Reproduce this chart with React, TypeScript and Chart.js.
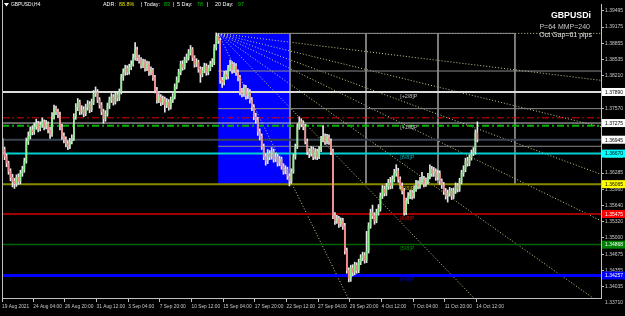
import React, { useEffect, useRef } from 'react';
import { Chart, registerables } from 'chart.js';

Chart.register(...registerables);

const FONT = '"Liberation Sans", Arial, sans-serif';

// ---- axis labels ----
const xTickLabels = ['19 Aug 2021', '24 Aug 04:00', '26 Aug 20:00', '31 Aug 12:00', '3 Sep 04:00', '7 Sep 20:00', '10 Sep 12:00', '15 Sep 04:00', '17 Sep 20:00', '22 Sep 12:00', '27 Sep 04:00', '29 Sep 20:00', '4 Oct 12:00', '7 Oct 04:00', '11 Oct 20:00', '14 Oct 12:00'];
const xTickBars = [0, 16, 32, 48, 64, 80, 96, 112, 128, 144, 160, 176, 192, 208, 224, 240];
const yTickValues = [1.39495, 1.39175, 1.38855, 1.38535, 1.3821, 1.3789, 1.3757, 1.3725, 1.3693, 1.36605, 1.36285, 1.3596, 1.3564, 1.3532, 1.35, 1.34675, 1.34355, 1.34035];
const yBottomTick = 1.3371;

// ---- H4 candles GBPUSDi ----
const firstOpen = 1.3691;
const closes = [
  1.3675, 1.3661, 1.3648, 1.3632, 1.3620, 1.3612, 1.3607, 1.3620, 1.3612, 1.3628,
  1.3636, 1.3652, 1.3691, 1.3701, 1.3714, 1.3710, 1.3720, 1.3726, 1.3716, 1.3724,
  1.3730, 1.3720, 1.3726, 1.3714, 1.3705, 1.3740, 1.3756, 1.3750, 1.3744, 1.3720,
  1.3701, 1.3695, 1.3687, 1.3681, 1.3691, 1.3697, 1.3740, 1.3759, 1.3769, 1.3750,
  1.3754, 1.3746, 1.3759, 1.3765, 1.3754, 1.3769, 1.3785, 1.3789, 1.3773, 1.3763,
  1.3750, 1.3736, 1.3746, 1.3761, 1.3773, 1.3779, 1.3769, 1.3783, 1.3777, 1.3789,
  1.3818, 1.3828, 1.3836, 1.3828, 1.3838, 1.3844, 1.3857, 1.3873, 1.3857, 1.3852,
  1.3842, 1.3848, 1.3836, 1.3844, 1.3828, 1.3832, 1.3818, 1.3793, 1.3773, 1.3779,
  1.3769, 1.3775, 1.3763, 1.3769, 1.3759, 1.3773, 1.3779, 1.3799, 1.3812, 1.3828,
  1.3844, 1.3838, 1.3852, 1.3857, 1.3867, 1.3873, 1.3857, 1.3844, 1.3848, 1.3834,
  1.3824, 1.3832, 1.3840, 1.3828, 1.3836, 1.3844, 1.3848, 1.3877, 1.3899, 1.3891,
  1.3812, 1.3808, 1.3824, 1.3820, 1.3836, 1.3844, 1.3832, 1.3840, 1.3828, 1.3818,
  1.3789, 1.3785, 1.3797, 1.3781, 1.3789, 1.3773, 1.3759, 1.3740, 1.3734, 1.3710,
  1.3701, 1.3681, 1.3661, 1.3652, 1.3667, 1.3661, 1.3671, 1.3656, 1.3661, 1.3648,
  1.3656, 1.3642, 1.3632, 1.3636, 1.3622, 1.3612, 1.3632, 1.3661, 1.3681, 1.3720,
  1.3730, 1.3726, 1.3720, 1.3691, 1.3671, 1.3667, 1.3675, 1.3661, 1.3671, 1.3661,
  1.3675, 1.3695, 1.3701, 1.3691, 1.3699, 1.3691, 1.3671, 1.3544, 1.3534, 1.3538,
  1.3528, 1.3534, 1.3524, 1.3475, 1.3436, 1.3420, 1.3440, 1.3432, 1.3446, 1.3436,
  1.3452, 1.3460, 1.3465, 1.3456, 1.3475, 1.3524, 1.3550, 1.3544, 1.3534, 1.3550,
  1.3558, 1.3583, 1.3597, 1.3589, 1.3601, 1.3609, 1.3603, 1.3616, 1.3628, 1.3632,
  1.3616, 1.3603, 1.3593, 1.3550, 1.3573, 1.3583, 1.3589, 1.3583, 1.3597, 1.3607,
  1.3603, 1.3612, 1.3616, 1.3607, 1.3612, 1.3622, 1.3636, 1.3628, 1.3632, 1.3620,
  1.3628, 1.3612, 1.3605, 1.3593, 1.3583, 1.3589, 1.3593, 1.3583, 1.3593, 1.3603,
  1.3597, 1.3612, 1.3628, 1.3636, 1.3652, 1.3648, 1.3659, 1.3667, 1.3671, 1.3708,
  1.3695,
];
const highs = [
  1.3697, 1.3680, 1.3666, 1.3652, 1.3637, 1.3626, 1.3618, 1.3625, 1.3627, 1.3634,
  1.3642, 1.3658, 1.3698, 1.3710, 1.3720, 1.3722, 1.3728, 1.3735, 1.3731, 1.3730,
  1.3738, 1.3734, 1.3733, 1.3730, 1.3719, 1.3748, 1.3763, 1.3761, 1.3755, 1.3749,
  1.3725, 1.3708, 1.3700, 1.3693, 1.3697, 1.3704, 1.3746, 1.3766, 1.3776, 1.3773,
  1.3762, 1.3760, 1.3765, 1.3772, 1.3770, 1.3775, 1.3792, 1.3799, 1.3794, 1.3778,
  1.3768, 1.3755, 1.3752, 1.3767, 1.3779, 1.3786, 1.3784, 1.3790, 1.3788, 1.3795,
  1.3824, 1.3835, 1.3842, 1.3841, 1.3844, 1.3851, 1.3864, 1.3887, 1.3878, 1.3862,
  1.3857, 1.3854, 1.3853, 1.3850, 1.3849, 1.3839, 1.3836, 1.3822, 1.3798, 1.3786,
  1.3784, 1.3781, 1.3779, 1.3776, 1.3774, 1.3779, 1.3786, 1.3805, 1.3819, 1.3834,
  1.3850, 1.3851, 1.3858, 1.3864, 1.3873, 1.3881, 1.3877, 1.3861, 1.3855, 1.3852,
  1.3839, 1.3838, 1.3846, 1.3845, 1.3842, 1.3850, 1.3855, 1.3883, 1.3906, 1.3904,
  1.3896, 1.3818, 1.3830, 1.3831, 1.3842, 1.3852, 1.3849, 1.3847, 1.3845, 1.3833,
  1.3822, 1.3796, 1.3803, 1.3802, 1.3796, 1.3794, 1.3778, 1.3764, 1.3747, 1.3739,
  1.3716, 1.3706, 1.3686, 1.3667, 1.3675, 1.3673, 1.3679, 1.3676, 1.3668, 1.3666,
  1.3662, 1.3660, 1.3647, 1.3643, 1.3640, 1.3627, 1.3637, 1.3666, 1.3686, 1.3726,
  1.3740, 1.3736, 1.3732, 1.3725, 1.3696, 1.3677, 1.3681, 1.3680, 1.3677, 1.3676,
  1.3681, 1.3701, 1.3722, 1.3706, 1.3705, 1.3704, 1.3696, 1.3676, 1.3550, 1.3545,
  1.3543, 1.3540, 1.3539, 1.3529, 1.3480, 1.3441, 1.3446, 1.3447, 1.3452, 1.3451,
  1.3458, 1.3467, 1.3472, 1.3471, 1.3513, 1.3530, 1.3557, 1.3565, 1.3550, 1.3557,
  1.3566, 1.3589, 1.3604, 1.3603, 1.3608, 1.3616, 1.3620, 1.3623, 1.3636, 1.3645,
  1.3638, 1.3621, 1.3609, 1.3598, 1.3579, 1.3590, 1.3595, 1.3595, 1.3603, 1.3614,
  1.3613, 1.3620, 1.3630, 1.3622, 1.3619, 1.3628, 1.3645, 1.3642, 1.3640, 1.3637,
  1.3634, 1.3633, 1.3617, 1.3610, 1.3598, 1.3595, 1.3600, 1.3598, 1.3599, 1.3609,
  1.3608, 1.3618, 1.3634, 1.3643, 1.3658, 1.3660, 1.3665, 1.3674, 1.3679, 1.3714,
  1.3730,
];
const lows = [
  1.3668, 1.3655, 1.3641, 1.3626, 1.3613, 1.3601, 1.3598, 1.3602, 1.3606, 1.3607,
  1.3622, 1.3630, 1.3648, 1.3685, 1.3696, 1.3704, 1.3705, 1.3715, 1.3710, 1.3712,
  1.3719, 1.3714, 1.3716, 1.3708, 1.3697, 1.3701, 1.3735, 1.3744, 1.3738, 1.3714,
  1.3695, 1.3688, 1.3680, 1.3675, 1.3677, 1.3686, 1.3693, 1.3735, 1.3752, 1.3744,
  1.3745, 1.3740, 1.3742, 1.3753, 1.3748, 1.3750, 1.3764, 1.3780, 1.3768, 1.3757,
  1.3744, 1.3727, 1.3731, 1.3741, 1.3756, 1.3768, 1.3763, 1.3765, 1.3771, 1.3772,
  1.3785, 1.3812, 1.3822, 1.3823, 1.3824, 1.3833, 1.3840, 1.3852, 1.3851, 1.3846,
  1.3836, 1.3837, 1.3830, 1.3831, 1.3822, 1.3823, 1.3812, 1.3787, 1.3767, 1.3768,
  1.3762, 1.3764, 1.3749, 1.3758, 1.3753, 1.3755, 1.3768, 1.3775, 1.3795, 1.3808,
  1.3823, 1.3832, 1.3834, 1.3847, 1.3852, 1.3862, 1.3851, 1.3838, 1.3839, 1.3828,
  1.3808, 1.3819, 1.3827, 1.3822, 1.3823, 1.3831, 1.3839, 1.3843, 1.3872, 1.3885,
  1.3806, 1.3798, 1.3803, 1.3814, 1.3815, 1.3831, 1.3826, 1.3827, 1.3822, 1.3811,
  1.3783, 1.3779, 1.3780, 1.3775, 1.3776, 1.3767, 1.3752, 1.3734, 1.3727, 1.3703,
  1.3694, 1.3675, 1.3655, 1.3644, 1.3647, 1.3655, 1.3656, 1.3650, 1.3651, 1.3642,
  1.3643, 1.3636, 1.3626, 1.3627, 1.3616, 1.3603, 1.3608, 1.3628, 1.3656, 1.3677,
  1.3715, 1.3720, 1.3714, 1.3686, 1.3665, 1.3659, 1.3662, 1.3655, 1.3656, 1.3655,
  1.3657, 1.3671, 1.3690, 1.3685, 1.3686, 1.3685, 1.3665, 1.3538, 1.3527, 1.3529,
  1.3521, 1.3523, 1.3517, 1.3468, 1.3430, 1.3413, 1.3414, 1.3425, 1.3427, 1.3430,
  1.3431, 1.3447, 1.3455, 1.3450, 1.3451, 1.3470, 1.3519, 1.3538, 1.3527, 1.3530,
  1.3545, 1.3553, 1.3578, 1.3583, 1.3584, 1.3596, 1.3597, 1.3598, 1.3611, 1.3622,
  1.3610, 1.3597, 1.3587, 1.3545, 1.3546, 1.3568, 1.3578, 1.3577, 1.3579, 1.3592,
  1.3597, 1.3598, 1.3607, 1.3601, 1.3602, 1.3607, 1.3617, 1.3622, 1.3622, 1.3614,
  1.3615, 1.3606, 1.3598, 1.3586, 1.3577, 1.3571, 1.3583, 1.3576, 1.3578, 1.3588,
  1.3591, 1.3592, 1.3607, 1.3622, 1.3631, 1.3642, 1.3643, 1.3654, 1.3663, 1.3666,
  1.3690,
];

// ---- levels / objects ----
const murreyValues = [1.3789, 1.37275, 1.3667, 1.36065, 1.35475, 1.34868, 1.34257];
const murreyNames = ['[+2/8]P', '[+1/8]P', '[8/8]P', '[7/8]P', '[6/8]P', '[5/8]P', '[4/8]P'];
const murreyLabelBar = 201;
const bidPrice = 1.36945;
const redPivot = 1.37378;
const greenPivot = 1.37222;
const boxBars = [109, 145.3];
const boxPrices = [1.3905, 1.3607];
const gridBars = [145.3, 183.7, 220.1, 259.0];
const gridPrices = [1.38305, 1.3756, 1.36815];
const fanOrigin = [109, 1.3905];
const fanEnds = [[302.5, 1.3905], [302.5, 1.3812], [302.5, 1.372], [302.5, 1.3626], [302.5, 1.3534], [302.5, 1.337], [241, 1.337], [176, 1.337]];

const X_MIN = -0.3;
const X_MAX = 302.5;
const Y_MIN = 1.33811;
const Y_MAX = 1.39632;

const BULL = '#8ef08e';
const BEAR = '#f48a8a';
const WICK = '#e6e6e6';
const AXIS = '#c0c0c0';

const seg = (x0: number, y0: number, x1: number, y1: number) => [{ x: x0, y: y0 }, { x: x1, y: y1 }];

function lineDs(data: any[], color: string, width: number, dash: number[] = [], order = 8) {
  return {
    type: 'line' as const,
    data,
    borderColor: color,
    borderWidth: width,
    borderDash: dash,
    pointRadius: 0,
    fill: false,
    tension: 0,
    order,
  };
}

export default function App() {
  const ref = useRef<HTMLCanvasElement>(null);

  useEffect(() => {
    document.body.style.margin = '0';
    document.body.style.background = '#000';

    const opens = closes.map((c, i) => (i === 0 ? firstOpen : closes[i - 1]));
    const wickData = closes.map((_, i) => ({ x: i, y: [lows[i], highs[i]] }));
    const bodyData = closes.map((c, i) => ({ x: i, y: [opens[i], c] }));
    const bodyColors = closes.map((c, i) => (c >= opens[i] ? BULL : BEAR));

    const datasets: any[] = [];
    // fan lines
    fanEnds.forEach(([bx, p]) => {
      datasets.push(lineDs(seg(fanOrigin[0], fanOrigin[1], bx, p), 'rgba(225,225,160,0.9)', 1, [1, 2], 10));
    });
    // box grid
    datasets.push(lineDs(seg(boxBars[0], boxPrices[0], gridBars[3], boxPrices[0]), '#8c8c8c', 1, [], 9));
    gridPrices.forEach((p) => datasets.push(lineDs(seg(boxBars[0], p, X_MAX, p), '#8c8c8c', 1, [], 9)));
    gridBars.forEach((b) => datasets.push(lineDs(seg(b, boxPrices[0], b, boxPrices[1]), '#8c8c8c', 1, [], 9)));
    // full-width levels
    const levelStyles: [number, string, number, number[]][] = [
      [murreyValues[0], '#dcdcdc', 2, []],
      [murreyValues[1], '#c8c8c8', 1, []],
      [bidPrice, '#3a4450', 2, []],
      [murreyValues[2], '#00d0d0', 2, []],
      [murreyValues[3], '#8a8a00', 2, []],
      [murreyValues[4], '#a00000', 2, []],
      [murreyValues[5], '#006400', 1.5, []],
      [murreyValues[6], '#0000ff', 3, []],
      [redPivot, '#e00000', 1, [7, 3, 2, 3]],
      [greenPivot, '#00b400', 2, [7, 3, 2, 3]],
    ];
    levelStyles.forEach(([v, c, w, d]) => datasets.push(lineDs(seg(X_MIN, v, X_MAX, v), c, w, d, 8)));
    // candles
    datasets.push({
      type: 'bar',
      data: wickData,
      backgroundColor: WICK,
      borderWidth: 0,
      barThickness: 1,
      grouped: false,
      order: 2,
    });
    datasets.push({
      type: 'bar',
      data: bodyData,
      backgroundColor: bodyColors,
      borderWidth: 0,
      barThickness: 1,
      grouped: false,
      order: 1,
    });

    const murreyColors = ['#c0c0c0', '#c0c0c0', '#00a8a8', '#b8b800', '#c80000', '#008800', '#0000e0'];
    const priceBoxes: [number, string, string][] = [
      [murreyValues[0], '#ffffff', '#000000'],
      [murreyValues[1], '#ffffff', '#000000'],
      [bidPrice, '#ffffff', '#000000'],
      [murreyValues[2], '#00ffff', '#000000'],
      [murreyValues[3], '#ffff00', '#000000'],
      [murreyValues[4], '#ff0000', '#ffffff'],
      [murreyValues[5], '#008000', '#ffffff'],
      [murreyValues[6], '#0000ff', '#ffffff'],
    ];

    const overlay = {
      id: 'overlay',
      beforeDraw(chart: any) {
        const { ctx } = chart;
        ctx.save();
        ctx.fillStyle = '#000';
        ctx.fillRect(0, 0, chart.width, chart.height);
        ctx.restore();
      },
      beforeDatasetsDraw(chart: any) {
        const { ctx, scales } = chart;
        const x = scales.x, y = scales.y;
        ctx.save();
        const x0 = x.getPixelForValue(boxBars[0]);
        const x1 = x.getPixelForValue(boxBars[1]);
        const y0 = y.getPixelForValue(boxPrices[0]);
        const y1 = y.getPixelForValue(boxPrices[1]);
        ctx.fillStyle = '#0000ff';
        ctx.fillRect(x0, y0, x1 - x0, y1 - y0);
        ctx.restore();
      },
      afterDatasetsDraw(chart: any) {
        const { ctx, scales } = chart;
        const x = scales.x, y = scales.y;
        ctx.save();
        ctx.textBaseline = 'top';
        ctx.textAlign = 'left';
        ctx.font = `5.4px ${FONT}`;
        murreyValues.forEach((v, i) => {
          ctx.fillStyle = murreyColors[i];
          ctx.fillText(murreyNames[i], x.getPixelForValue(murreyLabelBar), y.getPixelForValue(v) + 1.5);
        });
        ctx.restore();
      },
      afterDraw(chart: any) {
        const { ctx, scales, chartArea } = chart;
        const y = scales.y;
        ctx.save();
        // left frame
        ctx.strokeStyle = AXIS;
        ctx.lineWidth = 1;
        ctx.beginPath();
        ctx.moveTo(chartArea.left + 0.5, 0);
        ctx.lineTo(chartArea.left + 0.5, chartArea.bottom);
        ctx.stroke();
        // bottom tick label outside plot
        ctx.font = `5px ${FONT}`;
        ctx.textBaseline = 'middle';
        ctx.textAlign = 'left';
        ctx.fillStyle = '#c8c8c8';
        ctx.fillText(yBottomTick.toFixed(5), chartArea.right + 4, y.getPixelForValue(yBottomTick));
        // price boxes
        priceBoxes.forEach(([v, bg, fg]) => {
          const py = y.getPixelForValue(v);
          ctx.fillStyle = bg;
          ctx.fillRect(chartArea.right + 1, py - 4, 23, 8);
          ctx.fillStyle = fg;
          ctx.fillText(v.toFixed(5), chartArea.right + 4, py + 0.5);
        });
        // header top-left
        ctx.fillStyle = '#ffffff';
        ctx.beginPath();
        ctx.moveTo(4, 3);
        ctx.lineTo(9, 3);
        ctx.lineTo(6.5, 6.5);
        ctx.closePath();
        ctx.fill();
        ctx.font = `4.9px ${FONT}`;
        ctx.fillText('GBPUSDi,H4', 11, 5);
        const adr: [string, number, string][] = [
          ['ADR:', 103, '#ffffff'],
          ['88.8%', 119, '#e0e000'],
          ['|', 141, '#ffffff'],
          ['Today:', 144, '#ffffff'],
          ['83', 164, '#00c000'],
          ['|', 173, '#ffffff'],
          ['5 Day:', 177, '#ffffff'],
          ['78', 197, '#00c000'],
          ['|', 207, '#ffffff'],
          ['20 Day:', 215, '#ffffff'],
          ['97', 238, '#00c000'],
        ];
        ctx.font = `5.4px ${FONT}`;
        adr.forEach(([t, px, c]) => {
          ctx.fillStyle = c;
          ctx.fillText(t, px, 5);
        });
        // header top-right
        ctx.textAlign = 'right';
        ctx.fillStyle = '#ffffff';
        ctx.font = `bold 8.8px ${FONT}`;
        ctx.fillText('GBPUSDi', 591, 16);
        ctx.font = `7px ${FONT}`;
        ctx.fillStyle = '#c8c8c8';
        ctx.fillText('P=64 MMP=240', 590, 27.5);
        ctx.fillStyle = '#e8e8e8';
        ctx.fillText('Oct Gap=61 pips', 592, 35.5);
        ctx.restore();
      },
    };

    const chart = new Chart(ref.current as HTMLCanvasElement, {
      type: 'bar',
      data: { datasets },
      options: {
        animation: false,
        responsive: false,
        devicePixelRatio: 1,
        layout: { padding: { left: 2, top: 1, right: 0, bottom: 0 } },
        plugins: { legend: { display: false }, tooltip: { enabled: false } },
        scales: {
          x: {
            type: 'linear',
            min: X_MIN,
            max: X_MAX,
            offset: false,
            grid: { display: true, drawOnChartArea: false, drawTicks: true, tickLength: 4, color: AXIS, offset: false },
            border: { display: true, color: AXIS },
            ticks: {
              autoSkip: false,
              maxRotation: 0,
              minRotation: 0,
              align: 'start',
              padding: 2,
              color: '#c8c8c8',
              font: { family: FONT, size: 4.8 },
              callback: (_v: any, i: number) => xTickLabels[i] ?? '',
            },
            afterBuildTicks: (scale: any) => {
              scale.ticks = xTickBars.map((b) => ({ value: Math.max(X_MIN, b - 0.5) }));
            },
            afterFit: (scale: any) => {
              scale.height = 18;
            },
          },
          y: {
            type: 'linear',
            position: 'right',
            min: Y_MIN,
            max: Y_MAX,
            grid: { display: true, drawOnChartArea: false, drawTicks: true, tickLength: 3, color: AXIS },
            border: { display: true, color: AXIS },
            ticks: {
              padding: 1,
              color: '#c8c8c8',
              font: { family: FONT, size: 5 },
              callback: (v: any) => Number(v).toFixed(5),
            },
            afterBuildTicks: (scale: any) => {
              scale.ticks = yTickValues.map((v) => ({ value: v }));
            },
            afterFit: (scale: any) => {
              scale.width = 24;
            },
          },
        },
      } as any,
      plugins: [overlay],
    });
    return () => chart.destroy();
  }, []);

  return <canvas ref={ref} width={625} height={316} style={{ display: 'block', width: 625, height: 316 }} />;
}
